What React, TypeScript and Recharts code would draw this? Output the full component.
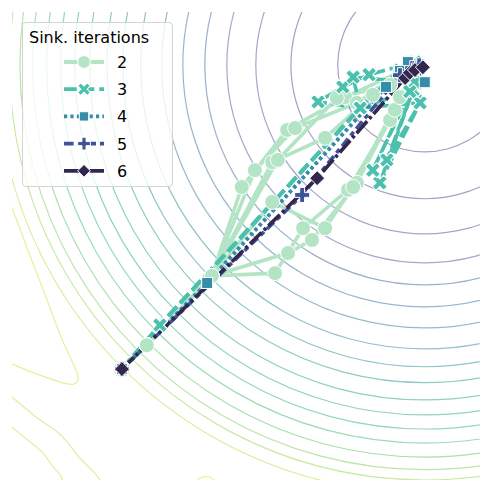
import React from "react";
import { ComposedChart, Line, XAxis, YAxis, Legend } from "recharts";

// loss landscape contours (parameter space 0..10 on both axes)
const CONTOUR_CENTER = { x: 8.82, y: 8.87 };
const CONTOUR_RADII = [
  1.86, 2.86, 3.61, 4.23, 4.7, 5.17, 5.62, 6.07, 6.45,
  6.79, 7.16, 7.48, 7.78, 8.08, 8.38, 8.65, 8.87, 9.15,
];
const CONTOUR_COLORS = [
  "#ab9bc7", "#a99fc8", "#a5a5ca", "#a0abcb", "#9cb0cc", "#98b6cc",
  "#95bccc", "#93c1cb", "#90c6c9", "#8ecbc6", "#8fcfc2", "#91d3be",
  "#96d8b9", "#9ddcb4", "#a9e0ae", "#b9e5a8", "#c9eaa4", "#d9eea0",
];
const CONTOUR_ANGLES = [
  0, 15, 30, 45, 60, 75, 90, 105, 120, 135, 150, 165, 180,
  195, 210, 225, 240, 255, 270, 285, 300, 315, 330, 345, 360,
];

// noisy outer contours in the lower-left corner
const OUTER_A = [
  [-0.1, 6.0], [0, 5.81], [0.34, 4.91], [0.71, 3.95], [1.03, 3.1], [1.24, 2.63],
  [1.41, 2.22], [1.32, 2.05], [1.03, 2.09], [0.6, 2.24], [0.21, 2.39], [0, 2.48], [-0.1, 2.5],
];
const OUTER_C = [
  [-0.1, 1.85], [0, 1.77], [0.28, 1.54], [0.6, 1.28], [0.92, 1.07],
  [1.18, 0.81], [1.45, 0.47], [1.71, 0.21], [1.88, 0], [1.95, -0.1],
];
const OUTER_D = [
  [-0.1, 1.2], [0, 1.13], [0.34, 0.85], [0.66, 0.58], [0.85, 0.32], [1.03, 0.11], [1.09, -0.05],
];
const OUTER_E = [[3.88, -0.1], [4.02, 0.04], [4.23, 0.06], [4.42, -0.1]];
const OUTER_CONTOURS = [
  { pts: OUTER_A, color: "#e6f19c" },
  { pts: OUTER_C, color: "#dcef9f" },
  { pts: OUTER_D, color: "#e2f09e" },
  { pts: OUTER_E, color: "#e8f29c" },
];

// optimisation trajectories, one list of runs per Sinkhorn iteration count
const RUNS_2 = [
  [[2.35, 2.37], [2.88, 2.88], [4.27, 4.36], [4.91, 6.26], [5.88, 7.48], [7.12, 8.18], [8.29, 8.72], [8.68, 8.87]],
  [[2.35, 2.37], [2.88, 2.88], [4.27, 4.36], [5.19, 6.62], [6.05, 7.52], [7.37, 8.06], [8.4, 8.76]],
  [[2.35, 2.37], [2.88, 2.88], [4.27, 4.36], [5.56, 6.79], [6.69, 7.31], [7.71, 8.23], [8.5, 8.8]],
  [[2.35, 2.37], [2.88, 2.88], [4.27, 4.36], [5.68, 6.84], [6.94, 8.16], [8.08, 8.44], [8.55, 8.8]],
  [[2.35, 2.37], [2.88, 2.88], [4.27, 4.36], [5.62, 4.42], [6.22, 5.38], [7.18, 6.2], [8.08, 7.69], [8.5, 8.65]],
  [[2.35, 2.37], [2.88, 2.88], [4.27, 4.36], [5.9, 4.85], [6.41, 5.13], [7.37, 6.35], [8.18, 7.91], [8.55, 8.72]],
  [[2.35, 2.37], [2.88, 2.88], [4.27, 4.36], [5.56, 5.94], [6.69, 5.38], [7.29, 6.26], [8.29, 8.18], [8.6, 8.8]],
];
const RUNS_3 = [
  [[2.35, 2.37], [3.16, 3.31], [7.44, 7.95], [8.29, 8.76], [8.68, 8.87]],
  [[2.35, 2.37], [3.16, 3.31], [7.44, 7.95], [6.54, 8.08], [7.07, 8.4], [7.63, 8.66], [8.61, 8.93]],
  [[2.35, 2.37], [3.16, 3.31], [7.44, 7.95], [8.57, 8.33], [8.01, 6.84], [8.72, 8.06], [8.68, 8.87]],
  [[2.35, 2.37], [3.16, 3.31], [7.44, 7.95], [8.72, 8.06], [7.86, 6.35], [8.57, 8.33], [8.61, 8.93]],
  [[2.35, 2.37], [3.16, 3.31], [7.44, 7.95], [7.29, 8.61], [8.61, 8.5], [7.71, 6.62], [8.5, 8.3], [8.68, 8.87]],
];
const RUNS_4 = [
  [[2.35, 2.37], [4.17, 4.21], [7.99, 8.4], [8.46, 8.93], [8.82, 8.5], [8.68, 8.85]],
  [[2.35, 2.37], [4.17, 4.21], [8.29, 8.74], [8.55, 8.72], [8.7, 8.84]],
];
const RUNS_5 = [
  [[2.35, 2.37], [6.2, 6.09], [8.29, 8.65], [8.55, 8.8], [8.7, 8.86]],
];
const RUNS_6 = [
  [[2.35, 2.37], [6.52, 6.45], [8.4, 8.59], [8.5, 8.7], [8.61, 8.76], [8.78, 8.82]],
];

const SERIES = [
  { label: "2", color: "#b3e4c5", shape: "circle", dash: undefined, runs: RUNS_2 },
  { label: "3", color: "#4bc1ad", shape: "x", dash: "12.8 4.8", runs: RUNS_3 },
  { label: "4", color: "#358da9", shape: "square", dash: "3.2 3.2", runs: RUNS_4 },
  { label: "5", color: "#3e5399", shape: "plus", dash: "9.6 4 4.8 4", runs: RUNS_5 },
  { label: "6", color: "#33264f", shape: "diamond", dash: "16 3.2 3.2 3.2", runs: RUNS_6 },
];

const toPts = (run: number[][]) => run.map(([x, y]) => ({ x, y }));

const contourData = CONTOUR_RADII.map((r) =>
  CONTOUR_ANGLES.map((a) => ({
    x: CONTOUR_CENTER.x + r * Math.cos((a * Math.PI) / 180),
    y: CONTOUR_CENTER.y + r * Math.sin((a * Math.PI) / 180),
  }))
);

function plusPoints(a: number, b: number) {
  return [
    [-b, -a], [b, -a], [b, -b], [a, -b], [a, b], [b, b],
    [b, a], [-b, a], [-b, b], [-a, b], [-a, -b], [-b, -b],
  ].map((p) => p.join(",")).join(" ");
}

function Marker({ shape, color, cx, cy, scale = 1 }: any) {
  const edge = { fill: color, stroke: "#ffffff", strokeWidth: 1 };
  if (shape === "circle") return <circle cx={cx} cy={cy} r={7.5 * scale} {...edge} />;
  if (shape === "square") {
    const s = 11 * scale;
    return <rect x={cx - s / 2} y={cy - s / 2} width={s} height={s} {...edge} />;
  }
  if (shape === "diamond") {
    const d = 7.5 * scale;
    return <polygon points={`${cx},${cy - d} ${cx + d},${cy} ${cx},${cy + d} ${cx - d},${cy}`} {...edge} />;
  }
  if (shape === "x") {
    return (
      <polygon
        transform={`translate(${cx},${cy}) rotate(45)`}
        points={plusPoints(8 * scale, 2.6 * scale)}
        {...edge}
      />
    );
  }
  return (
    <polygon
      transform={`translate(${cx},${cy})`}
      points={plusPoints(7.5 * scale, 2.4 * scale)}
      {...edge}
    />
  );
}

const makeDot = (shape: string, color: string) => (props: any) => {
  const { cx, cy, index } = props;
  if (cx == null || cy == null) return <g key={index} />;
  return <Marker key={index} shape={shape} color={color} cx={cx} cy={cy} />;
};

function LegendBox() {
  return (
    <div
      style={{
        width: 151,
        height: 165,
        boxSizing: "border-box",
        border: "1px solid #d4d4d4",
        borderRadius: 4,
        background: "rgba(255,255,255,0.8)",
        position: "relative",
      }}
    >
      <svg width={151} height={165} style={{ position: "absolute", left: -1, top: -1 }}>
        <text x={7} y={21} fontSize={16} fontFamily="DejaVu Sans" fill="#000">
          Sink. iterations
        </text>
        {SERIES.map((s, i) => {
          const cy = 40 + 27.2 * i;
          return (
            <g key={s.label}>
              <line x1={42} x2={82} y1={cy} y2={cy} stroke={s.color} strokeWidth={3.8} strokeDasharray={s.dash} />
              <Marker shape={s.shape} color={s.color} cx={62} cy={cy} scale={0.85} />
              <text x={95} y={cy + 6} fontSize={16} fontFamily="DejaVu Sans" fill="#000">
                {s.label}
              </text>
            </g>
          );
        })}
      </svg>
    </div>
  );
}

export default function App() {
  return (
    <div style={{ position: "absolute", left: 0, top: 0, width: 492, height: 492, background: "#fff", fontFamily: "DejaVu Sans" }}>
      <ComposedChart width={492} height={492} margin={{ top: 12, right: 12, bottom: 12, left: 12 }}>
        <XAxis type="number" dataKey="x" domain={[0, 10]} hide allowDataOverflow />
        <YAxis type="number" domain={[0, 10]} hide allowDataOverflow />
        {contourData.map((pts, i) => (
          <Line
            key={`c${i}`}
            data={pts}
            dataKey="y"
            type="natural"
            stroke={CONTOUR_COLORS[i]}
            strokeWidth={1.2}
            dot={false}
            activeDot={false}
            isAnimationActive={false}
          />
        ))}
        {OUTER_CONTOURS.map((c, i) => (
          <Line
            key={`o${i}`}
            data={toPts(c.pts)}
            dataKey="y"
            type="natural"
            stroke={c.color}
            strokeWidth={1.2}
            dot={false}
            activeDot={false}
            isAnimationActive={false}
          />
        ))}
        {SERIES.map((s) =>
          s.runs.map((run, j) => (
            <Line
              key={`s${s.label}-${j}`}
              data={toPts(run)}
              dataKey="y"
              type="linear"
              stroke={s.color}
              strokeWidth={3.6}
              strokeDasharray={s.dash}
              dot={makeDot(s.shape, s.color)}
              activeDot={false}
              isAnimationActive={false}
            />
          ))
        )}
        <Legend
          layout="vertical"
          align="center"
          verticalAlign="middle"
          wrapperStyle={{ left: 22, top: 22, width: 151, height: 165 }}
          content={() => <LegendBox />}
        />
      </ComposedChart>
    </div>
  );
}
